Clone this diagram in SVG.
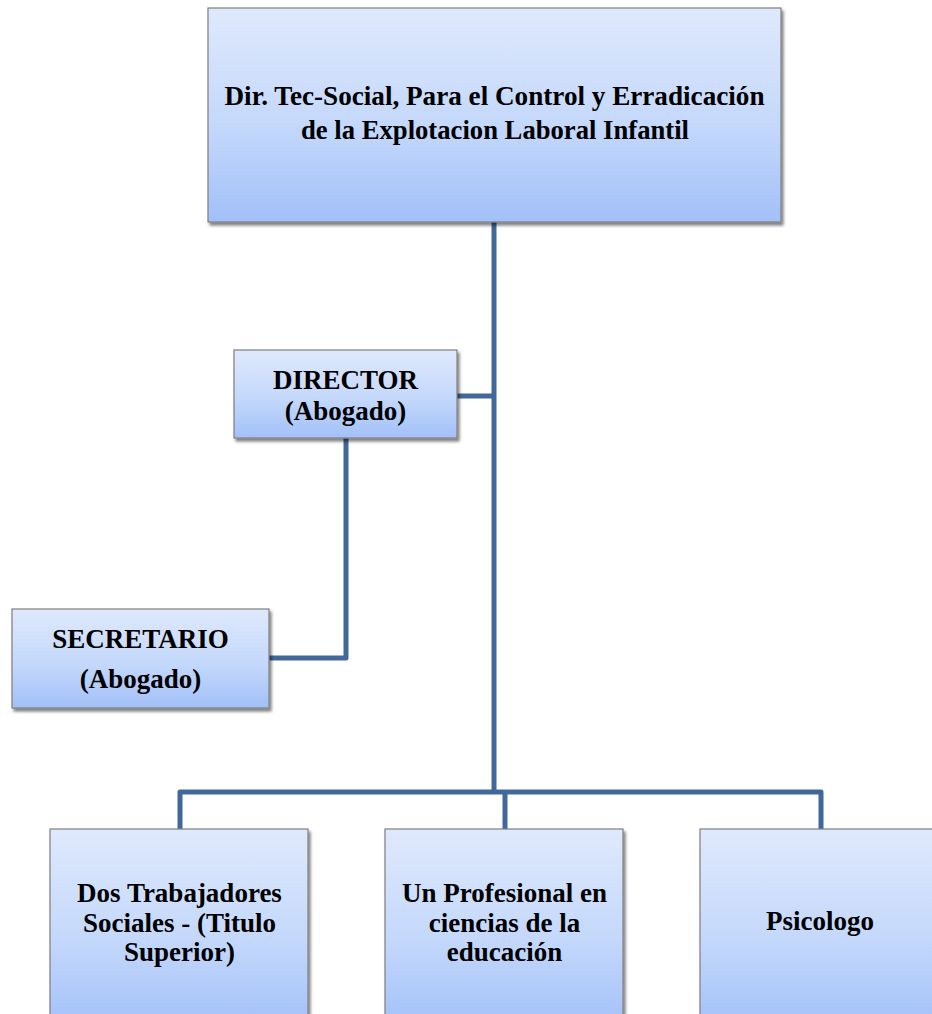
<svg xmlns="http://www.w3.org/2000/svg" width="932" height="1014" viewBox="0 0 932 1014">
<defs>
<linearGradient id="g" x1="0" y1="0" x2="0" y2="1">
<stop offset="0" stop-color="#dfe9fc"/>
<stop offset="0.55" stop-color="#c4d8fb"/>
<stop offset="1" stop-color="#a2c0f8"/>
</linearGradient>
<filter id="sh" x="-5%" y="-5%" width="115%" height="120%">
<feGaussianBlur in="SourceAlpha" stdDeviation="1.8"/>
<feOffset dx="2" dy="3" result="b"/>
<feComponentTransfer><feFuncA type="linear" slope="0.5"/></feComponentTransfer>
<feMerge><feMergeNode/><feMergeNode in="SourceGraphic"/></feMerge>
</filter>
</defs>
<style>
.box{fill:url(#g);stroke:#7f7f7f;stroke-width:1.2;filter:url(#sh)}
.t{font-family:"Liberation Serif","Times New Roman",serif;font-weight:bold;font-size:27px;fill:#000;text-anchor:middle}
.c{fill:none;stroke:#41689a;stroke-width:5;stroke-linejoin:round}
</style>
<rect width="932" height="1014" fill="#ffffff"/>
<g id="connectors">
<path class="c" d="M494,222 V792"/>
<path class="c" d="M457,396 H494"/>
<path class="c" d="M346,438 V658 H269"/>
<path class="c" d="M180,829 V792 H821 V829"/>
<path class="c" d="M505,792 V829"/>
</g>
<g id="top">
<rect class="box" x="208" y="8" width="573" height="214"/>
<text class="t" x="494.5" y="105" font-size="25.5" textLength="540" lengthAdjust="spacingAndGlyphs">Dir. Tec-Social, Para el Control y Erradicación</text>
<text class="t" x="495" y="139" font-size="25.5" textLength="388" lengthAdjust="spacingAndGlyphs">de la Explotacion Laboral Infantil</text>
</g>
<g id="director">
<rect class="box" x="234" y="350" width="223" height="88"/>
<text class="t" x="345.5" y="389">DIRECTOR</text>
<text class="t" x="345.5" y="420">(Abogado)</text>
</g>
<g id="secretario">
<rect class="box" x="12" y="609" width="257" height="99"/>
<text class="t" x="140.5" y="648">SECRETARIO</text>
<text class="t" x="140.5" y="688">(Abogado)</text>
</g>
<g id="trabajadores">
<rect class="box" x="50" y="829" width="258" height="200"/>
<text class="t" x="179.5" y="902">Dos Trabajadores</text>
<text class="t" x="179.5" y="932">Sociales - (Titulo</text>
<text class="t" x="179.5" y="961">Superior)</text>
</g>
<g id="profesional">
<rect class="box" x="385" y="829" width="238" height="200"/>
<text class="t" x="504.5" y="902">Un Profesional en</text>
<text class="t" x="504.5" y="932">ciencias de la</text>
<text class="t" x="504.5" y="961">educación</text>
</g>
<g id="psicologo">
<rect class="box" x="700" y="829" width="250" height="200"/>
<text class="t" x="820" y="930">Psicologo</text>
</g>
</svg>
